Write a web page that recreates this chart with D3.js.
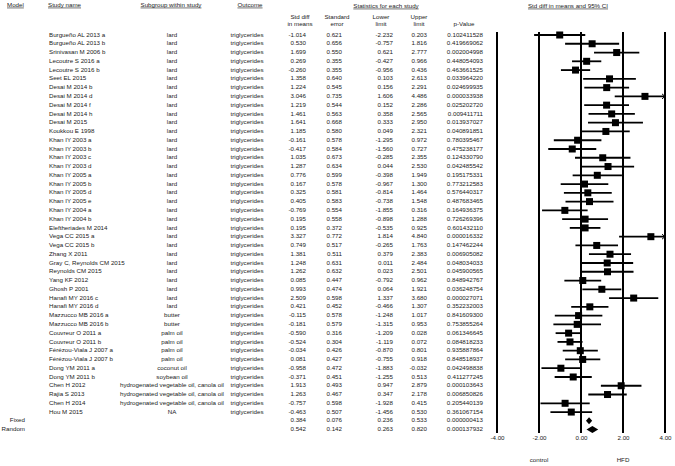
<!DOCTYPE html>
<html>
<head>
<meta charset="utf-8">
<script src="https://cdn.jsdelivr.net/npm/d3@7"></script>
<style>
  body { margin: 0; background: #fff; }
  svg text { font-family: "Liberation Sans", Arial, sans-serif; font-size: 6.2px; fill: #222; }
  .u { text-decoration: underline; }
</style>
</head>
<body>
<svg id="chart" width="675" height="466"></svg>
<script>
// study rows
var studies = ["Burgueño AL 2013 a", "Burgueño AL 2013 b", "Srinivasan M 2006 b", "Lecoutre S 2016 a", "Lecoutre S 2016 b",
  "Seet EL 2015", "Desai M 2014 b", "Desai M 2014 d", "Desai M 2014 f", "Desai M 2014 h", "Desai M 2015", "Koukkou E 1998",
  "Khan IY 2003 a", "Khan IY 2003 b", "Khan IY 2003 c", "Khan IY 2003 d", "Khan IY 2005 a", "Khan IY 2005 b", "Khan IY 2005 d",
  "Khan IY 2005 e", "Khan IY 2004 a", "Khan IY 2004 b", "Eleftheriades M 2014", "Vega CC 2015 a", "Vega CC 2015 b",
  "Zhang X 2011", "Gray C, Reynolds CM 2015", "Reynolds CM 2015", "Yang KF 2012", "Ghosh P 2001", "Hanafi MY 2016 c",
  "Hanafi MY 2016 d", "Mazzucco MB 2016 a", "Mazzucco MB 2016 b", "Couvreur O 2011 a", "Couvreur O 2011 b",
  "Férézou-Viala J 2007 a", "Férézou-Viala J 2007 b", "Dong YM 2011 a", "Dong YM 2011 b", "Chen H 2012", "Rajia S 2013",
  "Chen H 2014", "Hou M 2015"]
var hvo = "hydrogenated vegetable oil, canola oil"
var subgroups = ["lard", "lard", "lard", "lard", "lard", "lard", "lard", "lard", "lard", "lard", "lard", "lard",
  "lard", "lard", "lard", "lard", "lard", "lard", "lard", "lard", "lard", "lard", "lard", "lard", "lard",
  "lard", "lard", "lard", "lard", "lard", "lard", "lard", "butter", "butter", "palm oil", "palm oil",
  "palm oil", "palm oil", "coconut oil", "soybean oil", hvo, hvo, hvo, "NA"]
var outcome = "triglycerides"
var smd = [-1.014, 0.530, 1.699, 0.269, -0.260, 1.358, 1.224, 3.046, 1.219, 1.461, 1.641, 1.185,
  -0.161, -0.417, 1.035, 1.287, 0.776, 0.167, 0.325, 0.405, -0.769, 0.195, 0.195, 3.327, 0.749,
  1.381, 1.248, 1.262, 0.085, 0.993, 2.509, 0.421, -0.115, -0.181, -0.590, -0.524,
  -0.034, 0.081, -0.958, -0.371, 1.913, 1.263, -0.757, -0.463]
var se = [0.621, 0.656, 0.550, 0.355, 0.355, 0.640, 0.545, 0.735, 0.544, 0.563, 0.668, 0.580,
  0.578, 0.584, 0.673, 0.634, 0.599, 0.578, 0.581, 0.583, 0.554, 0.558, 0.372, 0.772, 0.517,
  0.511, 0.631, 0.632, 0.447, 0.474, 0.598, 0.452, 0.578, 0.579, 0.316, 0.304,
  0.426, 0.427, 0.472, 0.451, 0.493, 0.467, 0.598, 0.507]
var lower = [-2.232, -0.757, 0.621, -0.427, -0.956, 0.103, 0.156, 1.606, 0.152, 0.358, 0.333, 0.049,
  -1.295, -1.560, -0.285, 0.044, -0.398, -0.967, -0.814, -0.738, -1.855, -0.898, -0.535, 1.814, -0.265,
  0.379, 0.011, 0.023, -0.792, 0.064, 1.337, -0.466, -1.248, -1.315, -1.209, -1.119,
  -0.870, -0.755, -1.883, -1.255, 0.947, 0.347, -1.928, -1.456]
var upper = [0.203, 1.816, 2.777, 0.966, 0.436, 2.613, 2.291, 4.486, 2.286, 2.565, 2.950, 2.321,
  0.972, 0.727, 2.355, 2.530, 1.949, 1.300, 1.464, 1.548, 0.316, 1.288, 0.925, 4.840, 1.763,
  2.383, 2.484, 2.501, 0.962, 1.921, 3.680, 1.307, 1.017, 0.953, 0.028, 0.072,
  0.801, 0.918, -0.032, 0.513, 2.879, 2.178, 0.415, 0.530]
var pval = [0.102411528, 0.419669062, 0.002004998, 0.448054093, 0.463661525, 0.033964220, 0.024699935, 0.000033938,
  0.025202720, 0.009411711, 0.013937027, 0.040891851, 0.780395467, 0.475238177, 0.124330790, 0.042485542,
  0.195175331, 0.773212583, 0.576440317, 0.487683465, 0.164936375, 0.726269396, 0.601432110, 0.000016332,
  0.147462244, 0.006905082, 0.048034033, 0.045900565, 0.848942767, 0.036248754, 0.000027071, 0.352232003,
  0.841609300, 0.753855264, 0.061346645, 0.084818233, 0.935887864, 0.848518937, 0.042498838, 0.411277245,
  0.000103643, 0.006850826, 0.205440139, 0.361067154]

// pooled rows
var models = ["Fixed", "Random"]
var sumSmd = [0.384, 0.542]
var sumSe = [0.076, 0.142]
var sumLower = [0.236, 0.263]
var sumUpper = [0.533, 0.820]
var sumP = [0.000000413, 0.000137932]

var axisTicks = [-4, -2, 0, 2, 4]

var loc = d3.formatLocale({decimal: ".", thousands: ",", grouping: [3], currency: ["", ""], minus: "-"})
var f3 = loc.format(".3f"), f9 = loc.format(".9f"), f2 = loc.format(".2f")

var svg = d3.select("#chart")

var nRows = studies.length + models.length
var y = d3.scaleLinear().domain([0, nRows - 1]).range([35, 429.6])
var x = d3.scaleLinear().domain([-4, 4]).range([497, 665])

var rows = studies.map((s, i) => ({name: s, sub: subgroups[i], smd: smd[i], se: se[i], lo: lower[i], hi: upper[i], p: pval[i], i: i}))
var pooled = models.map((m, k) => ({model: m, smd: sumSmd[k], se: sumSe[k], lo: sumLower[k], hi: sumUpper[k], p: sumP[k], i: studies.length + k}))
var all = rows.concat(pooled)

// headers
function txt(t, px, py, anchor, cls) {
  return svg.append("text").attr("x", px).attr("y", py).attr("text-anchor", anchor || "start")
    .attr("dominant-baseline", "middle").attr("class", cls || null).text(t)
}
txt("Model", 7, 5, "start", "u")
txt("Study name", 48, 5, "start", "u")
txt("Subgroup within study", 171, 5, "middle", "u")
txt("Outcome", 250, 5, "middle", "u")
txt("Statistics for each study", 386, 6, "middle", "u")
txt("Std diff in means and 95% CI", 568, 6, "middle", "u")

var cols = [
  {key: "smd", x: 306, h: ["Std diff", "in means"], hx: 300, fmt: f3},
  {key: "se", x: 342, h: ["Standard", "error"], hx: 337, fmt: f3},
  {key: "lo", x: 393, h: ["Lower", "limit"], hx: 381, fmt: f3},
  {key: "hi", x: 427, h: ["Upper", "limit"], hx: 419, fmt: f3},
  {key: "p", x: 483, h: ["", "p-Value"], hx: 464, fmt: f9}
]
cols.forEach(c => {
  txt(c.h[0], c.hx, 17, "middle")
  txt(c.h[1], c.hx, 24.5, "middle")
})

// text columns
var g = svg.append("g")
g.selectAll(".name").data(rows).enter().append("text").attr("class", "name")
  .attr("x", 49).attr("y", d => y(d.i)).attr("dominant-baseline", "middle").text(d => d.name)
g.selectAll(".sub").data(rows).enter().append("text").attr("class", "sub")
  .attr("x", 172).attr("y", d => y(d.i)).attr("text-anchor", "middle").attr("dominant-baseline", "middle").text(d => d.sub)
g.selectAll(".out").data(rows).enter().append("text").attr("class", "out")
  .attr("x", 247).attr("y", d => y(d.i)).attr("text-anchor", "middle").attr("dominant-baseline", "middle").text(outcome)
g.selectAll(".model").data(pooled).enter().append("text").attr("class", "model")
  .attr("x", 25).attr("y", d => y(d.i)).attr("text-anchor", "end").attr("dominant-baseline", "middle").text(d => d.model)
cols.forEach(c => {
  g.selectAll(".c-" + c.key).data(all).enter().append("text").attr("class", "c-" + c.key)
    .attr("x", c.x).attr("y", d => y(d.i)).attr("text-anchor", "end").attr("dominant-baseline", "middle")
    .text(d => c.fmt(d[c.key]))
})

// plot grid lines
svg.append("g").selectAll("line").data(axisTicks).enter().append("line")
  .attr("x1", d => x(d)).attr("x2", d => x(d)).attr("y1", 32).attr("y2", 433)
  .attr("stroke", "#000").attr("stroke-width", 2)

// axis labels
var ax = svg.append("g").attr("transform", "translate(0,436)")
  .call(d3.axisBottom(x).tickValues(axisTicks).tickFormat(f2).tickSize(0).tickPadding(0))
ax.select(".domain").remove()
ax.selectAll("text").style("font-family", '"Liberation Sans", Arial, sans-serif').style("font-size", "6.2px").attr("fill", "#222")

txt("control", x(-2), 460, "middle")
txt("HFD", x(2), 460, "middle")

// CI lines
var lo = x.domain()[0], hi = x.domain()[1]
var ci = svg.append("g")
ci.selectAll("line").data(rows).enter().append("line")
  .attr("x1", d => x(Math.max(d.lo, lo))).attr("x2", d => x(Math.min(d.hi, hi)))
  .attr("y1", d => y(d.i)).attr("y2", d => y(d.i))
  .attr("stroke", "#000").attr("stroke-width", 1.8)
// arrows for clipped intervals
rows.filter(d => d.hi > hi).forEach(d => {
  ci.append("path").attr("d", `M${x(hi) - 3},${y(d.i) - 2.5}L${x(hi)},${y(d.i)}L${x(hi) - 3},${y(d.i) + 2.5}`)
    .attr("fill", "none").attr("stroke", "#000").attr("stroke-width", 1)
})

// squares
var sq = 7
svg.append("g").selectAll("rect").data(rows).enter().append("rect")
  .attr("x", d => x(d.smd) - sq / 2).attr("y", d => y(d.i) - sq / 2)
  .attr("width", sq).attr("height", sq).attr("fill", "#000")

// diamonds
svg.append("g").selectAll("path").data(pooled).enter().append("path")
  .attr("d", d => `M${x(d.lo)},${y(d.i)}L${x(d.smd)},${y(d.i) - 3.5}L${x(d.hi)},${y(d.i)}L${x(d.smd)},${y(d.i) + 3.5}Z`)
  .attr("fill", "#000")
</script>
</body>
</html>
